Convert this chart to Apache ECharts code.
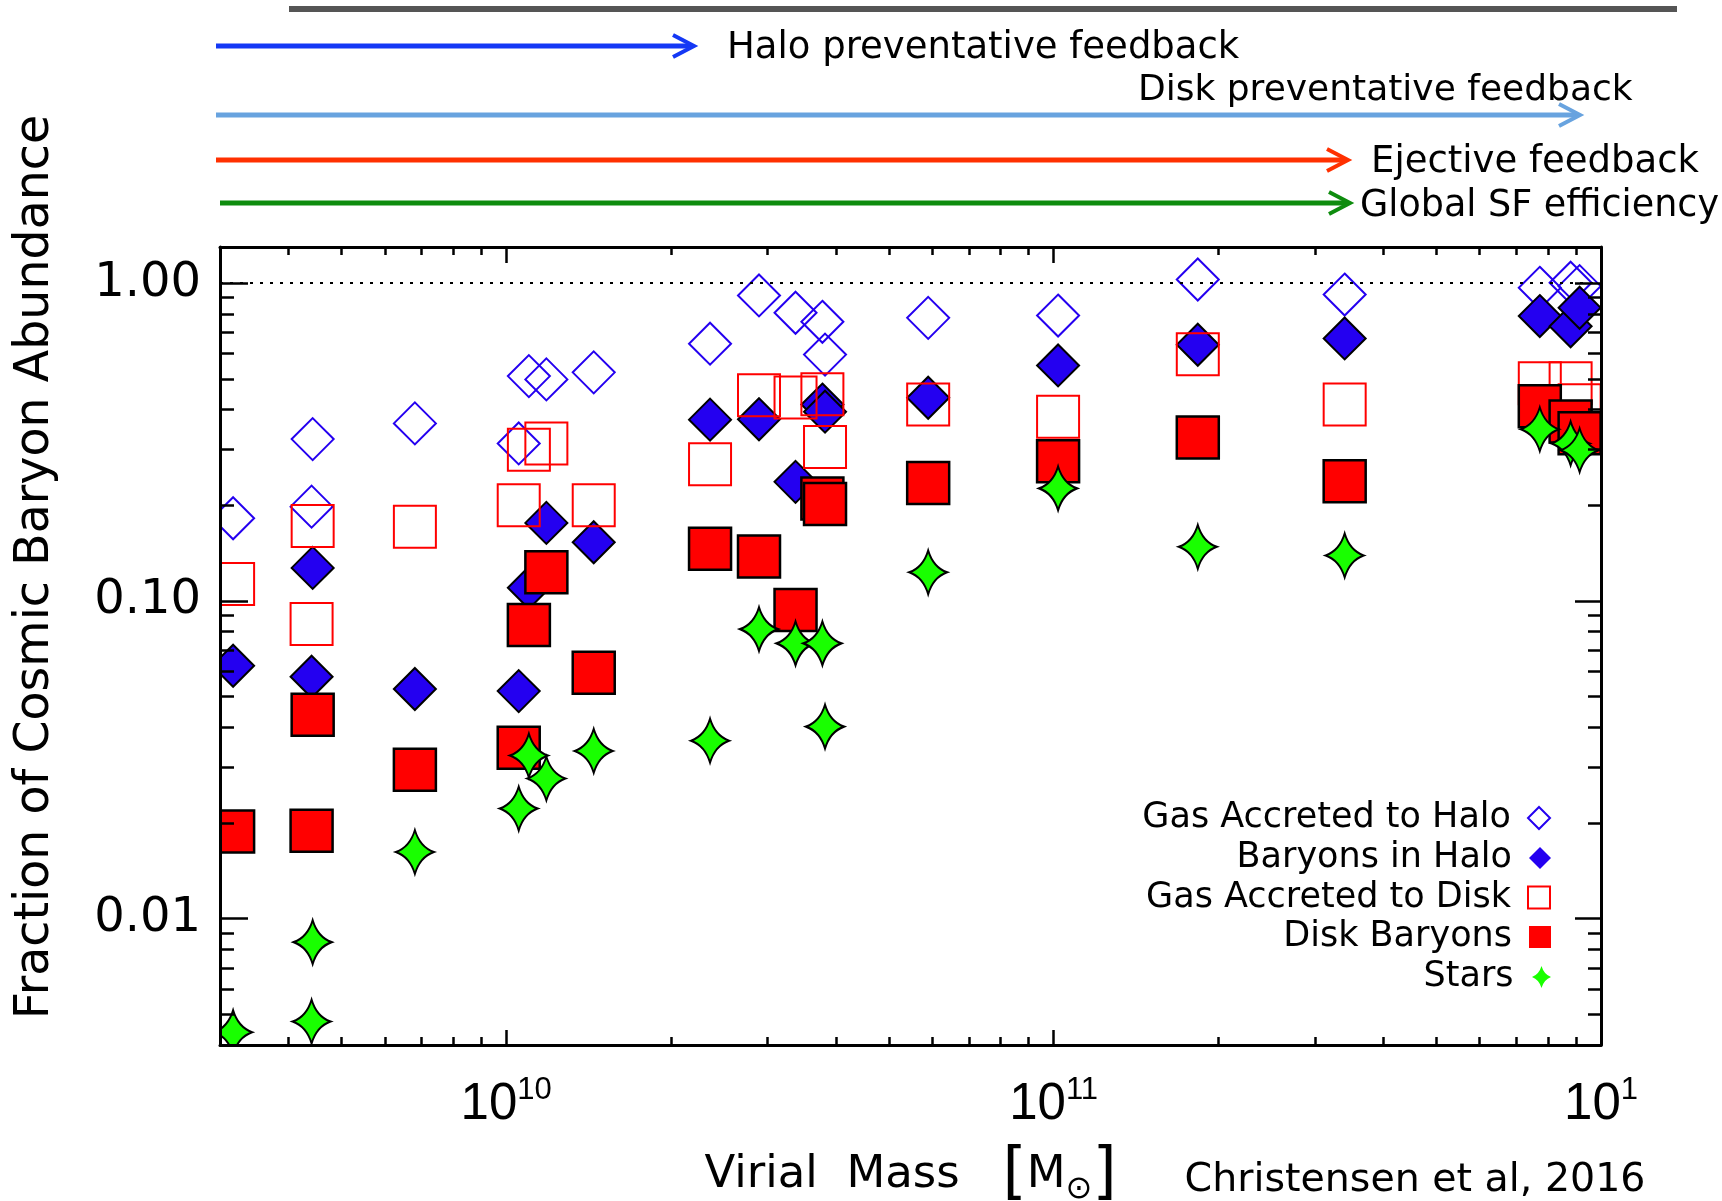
<!DOCTYPE html>
<html>
<head>
<meta charset="utf-8">
<script src="https://cdn.jsdelivr.net/npm/echarts@6/dist/echarts.min.js"></script>
<style>
  html, body { margin: 0; padding: 0; background: #ffffff; }
  #chart { width: 1722px; height: 1201px; }
</style>
</head>
<body>
<div id="chart"></div>
<script>
// Virial mass of each simulated galaxy [M_sun]
const virialMass = [3.17e9, 4.43e9, 4.41e9, 6.81e9, 1.054e10, 1.10e10, 1.184e10, 1.445e10, 2.357e10, 2.896e10,
                    3.377e10, 3.781e10, 3.823e10, 5.90e10, 1.019e11, 1.834e11, 3.402e11, 7.73e11, 8.80e11, 9.14e11];

// Fraction of the cosmic baryon abundance, one value per galaxy
const gasAccretedHalo = [0.182, 0.323, 0.198, 0.362, 0.313, 0.510, 0.498, 0.524, 0.645, 0.915,
                         0.807, 0.756, 0.596, 0.778, 0.791, 1.027, 0.921, 0.967, 1.003, 0.979];
const baryonsInHalo   = [0.0625, 0.127, 0.0577, 0.0528, 0.0520, 0.110, 0.176, 0.153, 0.372, 0.373,
                         0.237, 0.415, 0.394, 0.436, 0.551, 0.640, 0.670, 0.788, 0.732, 0.837];
const gasAccretedDisk = [0.113, 0.172, 0.0846, 0.171, 0.200, 0.299, 0.313, 0.200, 0.269, 0.444,
                         0.437, 0.447, 0.305, 0.415, 0.380, 0.597, 0.415, 0.484, 0.484, 0.413];
const diskBaryons     = [0.0188, 0.0438, 0.0189, 0.0294, 0.0345, 0.0839, 0.123, 0.0594, 0.146, 0.138,
                         0.0936, 0.210, 0.202, 0.235, 0.275, 0.327, 0.238, 0.410, 0.367, 0.337];
const starFraction    = [0.00439, 0.00843, 0.00474, 0.0162, 0.0222, 0.0326, 0.0276, 0.0337, 0.0363, 0.0815,
                         0.0735, 0.0735, 0.0402, 0.123, 0.226, 0.148, 0.139, 0.347, 0.313, 0.298];

const seriesNames = ['Gas Accreted to Halo', 'Baryons in Halo', 'Gas Accreted to Disk', 'Disk Baryons', 'Stars'];

// Axis ranges and labelled ticks
const xRange = [3e9, 1e12];
const yRange = [0.004, 1.3];
const xTickValues = [1e10, 1e11, 1e12];
const xTickBase = ['10', '10', '10'];
const xTickExponent = ['10', '11', '1'];
const yTickValues = [0.01, 0.1, 1];
const yTickLabels = ['0.01', '0.10', '1.00'];

const feedbackLabels = ['Halo preventative feedback', 'Disk preventative feedback', 'Ejective feedback', 'Global SF efficiency'];
const creditText = 'Christensen et al, 2016';

// ---- styling ----
const BLUE = '#2400f0', RED = '#ff0000', GREEN = '#19ff00';
const FONT = 'DejaVu Sans';
const STAR = 'path://M0,-22 Q5,-5 19,0 Q5,5 0,22 Q-5,5 -19,0 Q-5,-5 0,-22 Z';

function minorTicks(lo, hi) {
  const out = [];
  for (let e = Math.floor(Math.log10(lo)); e <= Math.ceil(Math.log10(hi)); e++) {
    for (let k = 2; k <= 9; k++) {
      const v = k * Math.pow(10, e);
      if (v > lo * 1.0001 && v < hi * 0.9999) out.push(v);
    }
  }
  return out;
}
function nearestIndex(list, v) {
  let best = 0, d = Infinity;
  list.forEach((t, i) => { const dd = Math.abs(Math.log10(t) - Math.log10(v)); if (dd < d) { d = dd; best = i; } });
  return best;
}
const pts = arr => virialMass.map((m, i) => [m, arr[i]]);

const hidden = { show: false };
function logAxis(range, extra) {
  return Object.assign({
    type: 'log', logBase: 10, min: range[0], max: range[1], z: 10,
    splitLine: hidden, axisLabel: hidden, axisTick: hidden, axisLine: hidden
  }, extra);
}
const frameLine = { show: true, onZero: false, lineStyle: { color: '#000', width: 3 } };
const tick = (values, len) => ({ show: true, inside: true, length: len, customValues: values,
                                 lineStyle: { color: '#000', width: 2.5 } });

const xMinor = minorTicks(xRange[0], xRange[1]);
const yMinor = minorTicks(yRange[0], yRange[1]);

const option = {
  animation: false,
  backgroundColor: '#ffffff',
  textStyle: { fontFamily: FONT, color: '#000' },
  grid: { left: 220, right: 121, top: 247, bottom: 156, outerBoundsMode: 'none', containLabel: false },
  xAxis: [
    logAxis(xRange, {
      position: 'bottom', axisLine: frameLine, axisTick: tick([1e10, 1e11], 15),
      axisLabel: {
        show: true, customValues: xTickValues, margin: 30, color: '#000',
        formatter: v => { const i = nearestIndex(xTickValues, v); return '{b|' + xTickBase[i] + '}{s|' + xTickExponent[i] + '}'; },
        rich: {
          b: { fontFamily: 'Liberation Sans', fontSize: 51, lineHeight: 51, padding: [8, 0, 0, 0], color: '#000' },
          s: { fontFamily: 'Liberation Sans', fontSize: 31, lineHeight: 31, verticalAlign: 'top', color: '#000' }
        }
      },
      name: '{t|Virial  Mass   }{br|[}{t|M}{sub|\u2299}{br|]}',
      nameLocation: 'middle', nameGap: 99,
      nameTextStyle: {
        rich: {
          t: { fontFamily: FONT, fontSize: 45, color: '#000' },
          br: { fontFamily: FONT, fontSize: 62, lineHeight: 62, color: '#000' },
          sub: { fontFamily: FONT, fontSize: 32, lineHeight: 32, verticalAlign: 'bottom', color: '#000' }
        }
      }
    }),
    logAxis(xRange, { position: 'bottom', axisTick: tick(xMinor, 8) }),
    logAxis(xRange, { position: 'top', axisLine: frameLine, axisTick: tick([1e10, 1e11], 16) }),
    logAxis(xRange, { position: 'top', axisTick: tick(xMinor, 8) })
  ],
  yAxis: [
    logAxis(yRange, {
      position: 'left', axisLine: frameLine, axisTick: tick(yTickValues, 28),
      axisLabel: {
        show: true, customValues: yTickValues, margin: 19, color: '#000',
        fontFamily: FONT, fontSize: 48, padding: [14, 0, 0, 0],
        formatter: v => yTickLabels[nearestIndex(yTickValues, v)]
      },
      name: 'Fraction of Cosmic Baryon Abundance',
      nameLocation: 'middle', nameGap: 160, nameRotate: 90,
      nameTextStyle: { fontFamily: FONT, fontSize: 47.5, color: '#000', padding: [0, 0, 0, 158] }
    }),
    logAxis(yRange, { position: 'left', axisTick: tick(yMinor, 14) }),
    logAxis(yRange, { position: 'right', axisLine: frameLine, axisTick: tick(yTickValues, 26) }),
    logAxis(yRange, { position: 'right', axisTick: tick(yMinor, 13) })
  ],
  legend: seriesNames.map((name, i) => ({
    data: [name], orient: 'vertical', align: 'right', right: 171, top: [818, 858, 897.5, 937, 977][i] - 17.5,
    padding: 0, itemWidth: 22, itemHeight: 22, selectedMode: false, z: 12,
    textStyle: { fontFamily: FONT, fontSize: 35, color: '#000', padding: [0, 12, 0, 0] },
    itemStyle: [
      { color: 'rgba(0,0,0,0)', borderColor: BLUE, borderWidth: 2, opacity: 1 },
      { color: BLUE, borderWidth: 0, opacity: 1 },
      { color: 'rgba(0,0,0,0)', borderColor: RED, borderWidth: 2, opacity: 1 },
      { color: RED, borderWidth: 0, opacity: 1 },
      { color: GREEN, borderWidth: 0, opacity: 1 }
    ][i]
  })),
  series: [
    {
      name: seriesNames[0], type: 'scatter', data: pts(gasAccretedHalo), symbol: 'diamond', symbolSize: 42,
      itemStyle: { color: 'rgba(0,0,0,0)', borderColor: BLUE, borderWidth: 2 },
      markLine: {
        silent: true, symbol: ['none', 'none'], label: { show: false },
        lineStyle: { color: '#000', width: 2, type: [3, 7], opacity: 1 }, data: [{ yAxis: 1 }]
      }
    },
    {
      name: seriesNames[1], type: 'scatter', data: pts(baryonsInHalo), symbol: 'diamond', symbolSize: 42,
      itemStyle: { color: BLUE, borderColor: '#000', borderWidth: 2 }
    },
    {
      name: seriesNames[2], type: 'scatter', data: pts(gasAccretedDisk), symbol: 'rect', symbolSize: 42,
      itemStyle: { color: 'rgba(0,0,0,0)', borderColor: RED, borderWidth: 2 }
    },
    {
      name: seriesNames[3], type: 'scatter', data: pts(diskBaryons), symbol: 'rect', symbolSize: 42,
      itemStyle: { color: RED, borderColor: '#000', borderWidth: 2.5 }
    },
    {
      name: seriesNames[4], type: 'scatter', data: pts(starFraction), symbol: STAR, symbolSize: [38, 44],
      itemStyle: { color: GREEN, borderColor: '#000', borderWidth: 2 }
    }
  ].map(s => {
    s.itemStyle.opacity = 1;
    return Object.assign(s, { silent: true, emphasis: { disabled: true } });
  }),
  graphic: { elements: [] }
};

const g = option.graphic.elements;
// white bands outside the frame trim symbols that overhang the plot edges
[[190, 240, 29, 815], [190, 1047, 1440, 16], [1603, 240, 25, 815]].forEach(r => {
  g.push({ type: 'rect', z: 5, silent: true, shape: { x: r[0], y: r[1], width: r[2], height: r[3] }, style: { fill: '#ffffff' } });
});
// grey rule across the top
g.push({ type: 'rect', shape: { x: 289, y: 6, width: 1388, height: 6 }, style: { fill: '#555555' } });
// feedback arrows with their captions
const arrows = [
  { color: '#1438f5', x0: 216, x1: 694, y: 46, tx: 727, ty: 48, size: 37 },
  { color: '#68a3df', x0: 216, x1: 1580, y: 115, tx: 1138, ty: 91, size: 36 },
  { color: '#ff3000', x0: 216, x1: 1348, y: 160, tx: 1371, ty: 162, size: 37 },
  { color: '#0e8c0e', x0: 220, x1: 1350, y: 203, tx: 1360, ty: 207, size: 36.5 }
];
arrows.forEach((a, i) => {
  g.push({ type: 'line', shape: { x1: a.x0, y1: a.y, x2: a.x1 - 2, y2: a.y }, style: { stroke: a.color, lineWidth: 5 } });
  g.push({ type: 'polyline', shape: { points: [[a.x1 - 21, a.y - 11], [a.x1, a.y], [a.x1 - 21, a.y + 11]] },
           style: { stroke: a.color, lineWidth: 4, fill: null } });
  g.push({ type: 'text', x: a.tx, y: a.ty,
           style: { text: feedbackLabels[i], font: a.size + 'px "DejaVu Sans"', fill: '#000', align: 'left', verticalAlign: 'middle' } });
});
g.push({ type: 'text', x: 1415, y: 1181,
         style: { text: creditText, font: '39.5px "DejaVu Sans"', fill: '#000', align: 'center', verticalAlign: 'middle' } });

const chart = echarts.init(document.getElementById('chart'), null, { renderer: 'canvas' });
chart.setOption(option);
</script>
</body>
</html>
